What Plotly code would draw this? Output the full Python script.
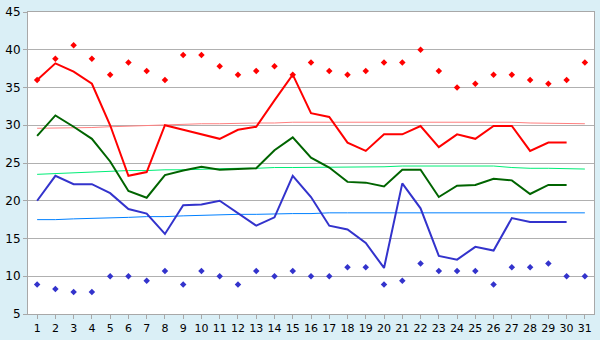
import plotly.graph_objects as go

days = list(range(1, 32))
line_days = list(range(1, 31))

max_line = [36.0, 38.2, 37.1, 35.5, 30.0, 23.3, 23.8, 30.0, 29.4, 28.8,
            28.2, 29.4, 29.8, 33.3, 36.7, 31.6, 31.1, 27.7, 26.6, 28.8,
            28.8, 29.9, 27.1, 28.8, 28.2, 29.9, 29.9, 26.6, 27.7, 27.7]
mean_line = [28.6, 31.3, 29.8, 28.2, 25.2, 21.3, 20.4, 23.4, 24.0, 24.5,
             24.1, 24.2, 24.3, 26.7, 28.4, 25.7, 24.4, 22.5, 22.4, 21.9,
             24.1, 24.1, 20.5, 22.0, 22.1, 22.9, 22.7, 20.9, 22.1, 22.1]
min_line = [20.0, 23.3, 22.2, 22.2, 21.0, 18.9, 18.3, 15.6, 19.4, 19.5,
            20.0, 18.4, 16.7, 17.8, 23.3, 20.5, 16.7, 16.2, 14.4, 11.1,
            22.3, 19.0, 12.7, 12.2, 13.9, 13.4, 17.7, 17.2, 17.2, 17.2]

max_record = [36.0, 38.8, 40.6, 38.8, 36.7, 38.3, 37.2, 36.0, 39.3, 39.3,
              37.8, 36.7, 37.2, 37.8, 36.7, 38.3, 37.2, 36.7, 37.2, 38.3,
              38.3, 40.0, 37.2, 35.0, 35.5, 36.7, 36.7, 36.0, 35.5, 36.0, 38.3]
min_record = [8.9, 8.3, 7.9, 7.9, 10.0, 10.0, 9.4, 10.7, 8.9, 10.7,
              10.0, 8.9, 10.7, 10.0, 10.7, 10.0, 10.0, 11.2, 11.2, 8.9,
              9.4, 11.7, 10.7, 10.7, 10.7, 8.9, 11.2, 11.2, 11.7, 10.0, 10.0]

max_norm = [29.6, 29.6, 29.7, 29.7, 29.8, 29.9, 30.0, 30.1, 30.1, 30.2,
            30.2, 30.3, 30.3, 30.3, 30.4, 30.4, 30.4, 30.4, 30.4, 30.4,
            30.4, 30.4, 30.4, 30.4, 30.4, 30.4, 30.4, 30.3, 30.3, 30.2, 30.2]
mean_norm = [23.5, 23.6, 23.7, 23.8, 23.9, 24.0, 24.0, 24.1, 24.1, 24.2,
             24.2, 24.3, 24.3, 24.4, 24.4, 24.4, 24.5, 24.5, 24.5, 24.5,
             24.6, 24.6, 24.6, 24.6, 24.6, 24.6, 24.4, 24.3, 24.3, 24.2, 24.2]
min_norm = [17.5, 17.5, 17.6, 17.7, 17.8, 17.8, 17.9, 17.9, 18.0, 18.1,
            18.2, 18.2, 18.2, 18.3, 18.3, 18.3, 18.4, 18.4, 18.4, 18.5,
            18.5, 18.5, 18.5, 18.5, 18.5, 18.5, 18.5, 18.4, 18.4, 18.4, 18.4]

y_ticks = [5, 10, 15, 20, 25, 30, 35, 40, 45]

fig = go.Figure()

fig.add_trace(go.Scatter(x=days, y=max_norm, mode="lines",
                         line=dict(color="#ff7f7f", width=1)))
fig.add_trace(go.Scatter(x=days, y=mean_norm, mode="lines",
                         line=dict(color="#00ee77", width=1)))
fig.add_trace(go.Scatter(x=days, y=min_norm, mode="lines",
                         line=dict(color="#0080ff", width=1)))

fig.add_trace(go.Scatter(x=line_days, y=mean_line, mode="lines",
                         line=dict(color="#006400", width=2)))
fig.add_trace(go.Scatter(x=line_days, y=min_line, mode="lines",
                         line=dict(color="#3333cc", width=2)))
fig.add_trace(go.Scatter(x=line_days, y=max_line, mode="lines",
                         line=dict(color="#ff0000", width=2)))

fig.add_trace(go.Scatter(x=days, y=max_record, mode="markers",
                         marker=dict(symbol="diamond", size=5, color="#ff0000")))
fig.add_trace(go.Scatter(x=days, y=min_record, mode="markers",
                         marker=dict(symbol="diamond", size=5, color="#3333cc")))

fig.update_layout(
    width=600, height=340,
    margin=dict(l=20, r=5, t=5, b=20),
    paper_bgcolor="#daeff6",
    plot_bgcolor="#ffffff",
    showlegend=False,
    font=dict(family="DejaVu Sans", size=11, color="#000000"),
)
fig.update_xaxes(range=[0.5, 31.5], tickmode="array", tickvals=days,
                 ticktext=[str(d) for d in days],
                 showgrid=False, zeroline=False,
                 showline=True, linecolor="#a8a8a8", linewidth=1, mirror=True,
                 ticks="outside", ticklen=4, tickcolor="#a8a8a8",
                 tickfont=dict(size=11))
fig.update_yaxes(range=[5, 45], tickmode="array", tickvals=y_ticks,
                 showgrid=True, gridcolor="#b0b0b0", gridwidth=1,
                 zeroline=False, ticklabeloverflow="allow",
                 showline=True, linecolor="#a8a8a8", linewidth=1, mirror=True,
                 ticks="outside", ticklen=4, tickcolor="#a8a8a8",
                 tickfont=dict(size=12))

fig.write_html("out.html")
